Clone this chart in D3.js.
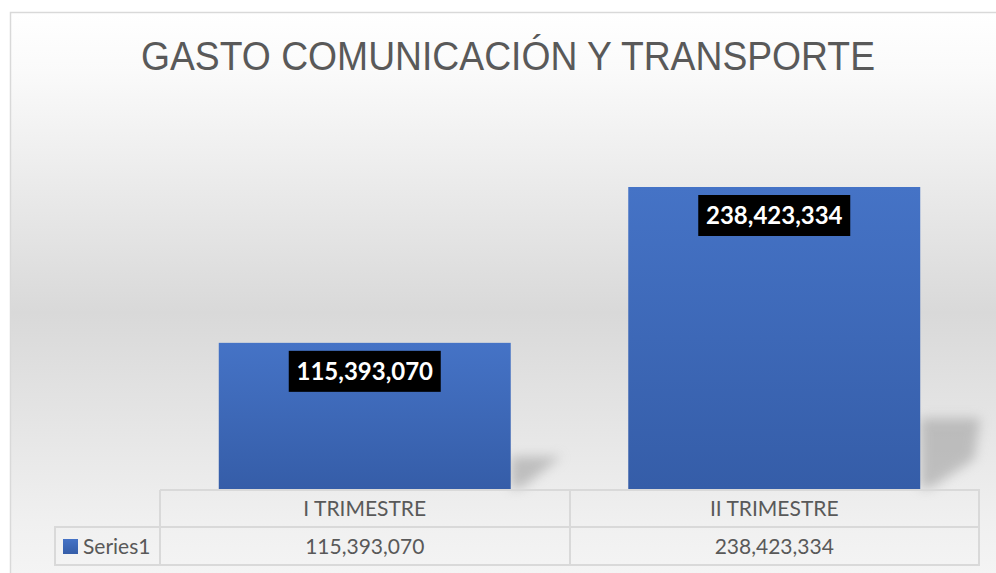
<!DOCTYPE html>
<html><head><meta charset="utf-8">
<script src="https://cdn.jsdelivr.net/npm/d3@7"></script>
<style>body{margin:0;background:#fff}svg{display:block}</style>
</head><body>
<svg id="c" width="996" height="573"></svg>
<script>
const title = "GASTO COMUNICACIÓN Y TRANSPORTE";
const categories = ["I TRIMESTRE", "II TRIMESTRE"];
const seriesName = "Series1";
const values = [115393070, 238423334];
const yMax = 300000000;

const svg = d3.select("#c");
const defs = svg.append("defs");
const bg = defs.append("linearGradient").attr("id","bg").attr("x1",0).attr("y1",0).attr("x2",0).attr("y2",1);
bg.append("stop").attr("offset","0").attr("stop-color","#ffffff");
bg.append("stop").attr("offset","0.1").attr("stop-color","#fafafa");
bg.append("stop").attr("offset","0.5").attr("stop-color","#d9d9d9");
bg.append("stop").attr("offset","0.85").attr("stop-color","#f0f0f0");
bg.append("stop").attr("offset","1").attr("stop-color","#f7f7f7");
const bar = defs.append("linearGradient").attr("id","bar").attr("x1",0).attr("y1",0).attr("x2",0).attr("y2",1);
bar.append("stop").attr("offset","0").attr("stop-color","#4573c6");
bar.append("stop").attr("offset","1").attr("stop-color","#355da8");
const blur = defs.append("filter").attr("id","blur").attr("x","-50%").attr("y","-50%").attr("width","200%").attr("height","200%");
blur.append("feGaussianBlur").attr("stdDeviation",6);

// chart background and border
svg.append("rect").attr("x",10.5).attr("y",12.5).attr("width",1000).attr("height",600)
  .attr("fill","url(#bg)").attr("stroke","#d9d9d9").attr("stroke-width",1.5);

svg.append("text").attr("x",508).attr("y",70).attr("text-anchor","middle")
  .attr("font-family","'Liberation Sans Narrow','Liberation Sans',Arial,sans-serif")
  .attr("font-size",40).attr("fill","#595959")
  .attr("textLength",734).attr("lengthAdjust","spacingAndGlyphs").text(title);

const x = d3.scaleBand().domain(categories).range([160,979]).paddingInner(0.287).paddingOuter(0.1435);
const y = d3.scaleLinear().domain([0,yMax]).range([489,109]);

const data = categories.map((c,i)=>({c, v: values[i]}));

// shadows
svg.append("g").selectAll("path").data(data).join("path")
  .attr("filter","url(#blur)").attr("fill","#a0a0a0").attr("opacity",0.6)
  .attr("d", d => {
    const x1 = x(d.c)+x.bandwidth();
    const h = (y(0)-y(d.v));
    const top = y(0) - Math.min(h*0.25, 75);
    const w = 45 + (y(0)-top)*0.2;
    return `M${x1},${top+4} L${x1+w},${top+4} L${x1+w*0.9},${y(0)-30} L${x1+12},${y(0)-2} L${x1},${y(0)} Z`;
  });

svg.append("g").selectAll("rect").data(data).join("rect")
  .attr("x", d=>x(d.c)).attr("y", d=>y(d.v))
  .attr("width", x.bandwidth()).attr("height", d=>y(0)-y(d.v))
  .attr("fill","url(#bar)");

const fmt = d3.format(",");
const lab = svg.append("g").selectAll("g").data(data).join("g")
  .attr("transform", d=>`translate(${x(d.c)+x.bandwidth()/2},${y(d.v)+8})`);
lab.append("rect").attr("x",-76).attr("y",0).attr("width",152).attr("height",41).attr("fill","#000");
lab.append("text").attr("x",0).attr("y",29).attr("text-anchor","middle")
  .attr("font-family","Lato,'Open Sans',sans-serif").attr("font-weight","bold")
  .attr("font-size",24).attr("fill","#fff").text(d=>fmt(d.v));

// data table
const tg = svg.append("g").attr("fill","none").attr("stroke","#d9d9d9").attr("stroke-width",2);
tg.append("path").attr("d",`M160,490 H979 V565 H55 V527 H979 M160,490 V565 M570,490 V565`);

const tf = "Lato,'Open Sans',sans-serif";
svg.append("g").selectAll("text").data(categories).join("text")
  .attr("x", c=>x(c)+x.bandwidth()/2).attr("y",516).attr("text-anchor","middle")
  .attr("font-family",tf).attr("font-size",21).attr("fill","#595959").text(c=>c);
svg.append("g").selectAll("text").data(data).join("text")
  .attr("x", d=>x(d.c)+x.bandwidth()/2).attr("y",554).attr("text-anchor","middle")
  .attr("font-family",tf).attr("font-size",21).attr("fill","#595959").text(d=>fmt(d.v));
svg.append("rect").attr("x",63).attr("y",539).attr("width",15).attr("height",15).attr("fill","url(#bar)");
svg.append("text").attr("x",83).attr("y",554).attr("font-family",tf).attr("font-size",21)
  .attr("fill","#595959").text(seriesName);
</script>
</body></html>
